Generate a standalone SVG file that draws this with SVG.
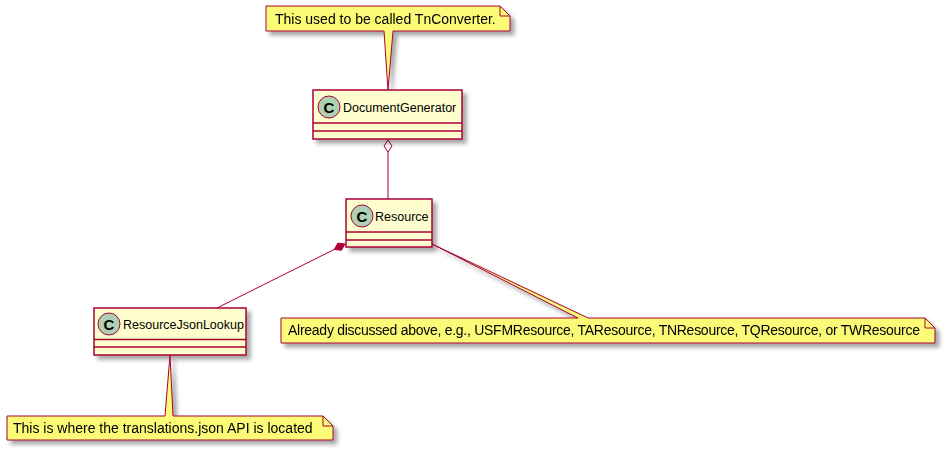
<svg xmlns="http://www.w3.org/2000/svg" width="946" height="451" viewBox="0 0 946 451">
<defs>
<filter id="sh" x="-10%" y="-20%" width="130%" height="160%">
<feGaussianBlur in="SourceAlpha" stdDeviation="2"/>
<feOffset dx="4" dy="4" result="b"/>
<feComponentTransfer><feFuncA type="linear" slope="0.35"/></feComponentTransfer>
<feMerge><feMergeNode/><feMergeNode in="SourceGraphic"/></feMerge>
</filter>
</defs>
<style>
.cls{fill:#FEFECE;stroke:#A80036;stroke-width:1.5}
.div{stroke:#A80036;stroke-width:1.5}
.circ{fill:#ADD1B2;stroke:#A80036;stroke-width:1}
.cl{font-family:"Liberation Sans",Arial,sans-serif;font-size:12.5px;fill:#000}
.cc{font-family:"Liberation Sans",Arial,sans-serif;font-size:15px;font-weight:bold;fill:#000;text-anchor:middle}
.note{fill:#FBFB77;stroke:#A80036;stroke-width:1}
.fold{fill:none;stroke:#A80036;stroke-width:1}
.nt{font-family:"Liberation Sans",Arial,sans-serif;font-size:14px;fill:#000}
.edge{fill:none;stroke:#A80036;stroke-width:1}
</style>
<g id="connectors">
<line class="edge" x1="388" y1="152" x2="388" y2="199"/>
<polygon points="388,140 392,146 388,152 384,146" fill="#FFFFFF" stroke="#A80036" stroke-width="1"/>
<line class="edge" x1="334.3" y1="249.4" x2="217" y2="308"/>
<polygon points="345,244 341.4,250.3 334.3,249.4 337.8,243.1" fill="#A80036" stroke="#A80036" stroke-width="1"/>
</g>
<g id="note-tnconverter" filter="url(#sh)">
<path class="note" d="M266,6 L500,6 L510,16 L510,31 L393,31 L388,90 L384,31 L266,31 Z"/>
<path class="fold" d="M500,6 L500,16 L510,16"/>
<text class="nt" x="275" y="24">This used to be called TnConverter.</text>
</g>
<g id="DocumentGenerator">
<rect class="cls" x="313" y="90" width="149" height="49" filter="url(#sh)"/>
<line class="div" x1="313" y1="123" x2="462" y2="123"/>
<line class="div" x1="313" y1="131" x2="462" y2="131"/>
<circle class="circ" cx="329" cy="107" r="11"/>
<text class="cc" x="329" y="112.5">C</text>
<text class="cl" x="343" y="112">DocumentGenerator</text>
</g>
<g id="Resource">
<rect class="cls" x="346" y="199" width="86" height="48" filter="url(#sh)"/>
<line class="div" x1="346" y1="232" x2="432" y2="232"/>
<line class="div" x1="346" y1="240" x2="432" y2="240"/>
<circle class="circ" cx="362" cy="216" r="11"/>
<text class="cc" x="362" y="221.5">C</text>
<text class="cl" x="375" y="221">Resource</text>
</g>
<g id="ResourceJsonLookup">
<rect class="cls" x="94" y="308" width="152" height="47" filter="url(#sh)"/>
<line class="div" x1="94" y1="339.5" x2="246" y2="339.5"/>
<line class="div" x1="94" y1="347" x2="246" y2="347"/>
<circle class="circ" cx="109" cy="324" r="11"/>
<text class="cc" x="109" y="329.5">C</text>
<text class="cl" x="123" y="329">ResourceJsonLookup</text>
</g>
<g id="note-already" filter="url(#sh)">
<path class="note" d="M281,318 L578,318 L432,244 L588,318 L925,318 L935,328 L935,343 L281,343 Z"/>
<path class="fold" d="M925,318 L925,328 L935,328"/>
<text class="nt" x="288" y="335" textLength="632" lengthAdjust="spacing">Already discussed above, e.g., USFMResource, TAResource, TNResource, TQResource, or TWResource</text>
</g>
<g id="note-translations" filter="url(#sh)">
<path class="note" d="M7,416 L165,416 L170,355 L173,416 L323,416 L333,426 L333,440 L7,440 Z"/>
<path class="fold" d="M323,416 L323,426 L333,426"/>
<text class="nt" x="13" y="433">This is where the translations.json API is located</text>
</g>
</svg>
